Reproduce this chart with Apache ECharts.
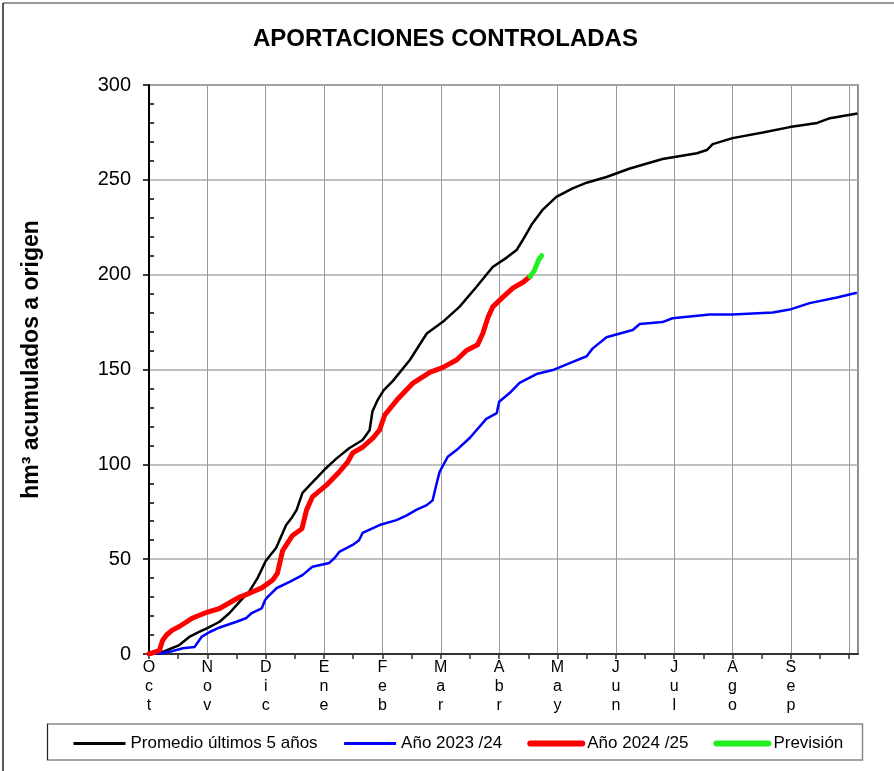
<!DOCTYPE html>
<html>
<head>
<meta charset="utf-8">
<script src="https://cdn.jsdelivr.net/npm/echarts@6/dist/echarts.min.js"></script>
<style>
  html, body { margin: 0; padding: 0; background: #fff; }
  #chart { width: 894px; height: 771px; }
</style>
</head>
<body>
<div id="chart"></div>
<script>
var myChart = echarts.init(document.getElementById('chart'));

// eje x en meses desde el 1 de octubre (0 = Oct, 12 = fin de Sep)
var meses = ['Oct', 'Nov', 'Dic', 'Ene', 'Feb', 'Mar', 'Abr', 'May', 'Jun', 'Jul', 'Ago', 'Sep'];

// [mes, hm3 acumulados]
var promedio = [
  [0, 0], [0.18, 0.5], [0.35, 2.5], [0.52, 4.7], [0.69, 9], [0.85, 11.5], [1.0, 13.7],
  [1.21, 17], [1.38, 21.6], [1.55, 27.5], [1.72, 33], [1.86, 40], [2.0, 49], [2.18, 56],
  [2.35, 68], [2.45, 72], [2.53, 76], [2.63, 85], [2.8, 90.5], [3.0, 97], [3.21, 103],
  [3.43, 108.5], [3.66, 112.8], [3.78, 118], [3.83, 128], [3.92, 134], [4.02, 139],
  [4.18, 144], [4.47, 155], [4.76, 169], [5.03, 175], [5.32, 183], [5.61, 193.5],
  [5.89, 204], [6.13, 209], [6.3, 213], [6.4, 218], [6.57, 227], [6.74, 234], [6.98, 241],
  [7.26, 245.5], [7.5, 248.5], [7.84, 251.5], [8.24, 256], [8.8, 261], [9.39, 264],
  [9.56, 265.7], [9.66, 268.8], [10.0, 272], [10.52, 275], [10.98, 277.8], [11.45, 280],
  [11.67, 282.5], [12.14, 285]
];

var anio2324 = [
  [0, 0], [0.18, 0.3], [0.4, 1.5], [0.58, 3], [0.78, 3.7], [0.9, 9], [1.04, 11.6], [1.21, 14],
  [1.5, 17], [1.67, 19], [1.76, 21.6], [1.93, 24], [1.99, 28.5], [2.03, 30], [2.19, 34.8],
  [2.41, 38], [2.63, 41.6], [2.8, 46], [3.09, 48], [3.18, 50.6], [3.26, 53.8], [3.49, 57.5],
  [3.6, 60], [3.66, 63.8], [3.95, 68], [4.24, 70.6], [4.41, 73], [4.58, 76], [4.76, 78.5],
  [4.86, 81], [4.93, 90], [4.98, 96], [5.12, 104], [5.27, 107.5], [5.5, 114], [5.78, 124],
  [5.96, 127], [6.0, 133], [6.18, 137.6], [6.35, 143], [6.64, 147.6], [6.92, 149.7],
  [7.21, 153.4], [7.5, 157], [7.6, 161], [7.84, 167], [8.07, 169], [8.29, 170.8], [8.41, 174],
  [8.8, 175], [8.97, 177], [9.61, 179], [10.0, 179], [10.69, 180], [10.98, 181.6],
  [11.32, 185], [11.79, 188], [12.13, 190.5]
];

var anio2425 = [
  [0, 0], [0.1, 1], [0.18, 2], [0.23, 7], [0.3, 10], [0.4, 12.6], [0.52, 14.5], [0.75, 19],
  [0.99, 22], [1.21, 24], [1.38, 27], [1.55, 30], [1.72, 32], [1.94, 35], [2.12, 39],
  [2.2, 42.5], [2.29, 54.5], [2.46, 62.5], [2.62, 66], [2.7, 76], [2.8, 82.8], [3.04, 89],
  [3.26, 96], [3.4, 101], [3.49, 106], [3.66, 109], [3.84, 114], [3.95, 118], [4.04, 126],
  [4.25, 134], [4.53, 143], [4.82, 148.6], [5.03, 151], [5.27, 155], [5.44, 160],
  [5.63, 163], [5.72, 169], [5.81, 177.5], [5.89, 183], [6.06, 188], [6.24, 193],
  [6.41, 196], [6.53, 199]
];

var prevision = [
  [6.53, 199], [6.6, 202], [6.64, 205], [6.68, 208], [6.73, 210]
];

var fuente = 'Arial, "Liberation Sans", sans-serif';

var option = {
  animation: false,
  title: {
    text: 'APORTACIONES CONTROLADAS',
    left: 248,
    top: 22,
    textStyle: { fontFamily: fuente, fontSize: 24, fontWeight: 'bold', color: '#000' }
  },
  grid: {
    left: 149, top: 85, right: 36, bottom: 117,
    show: true, borderColor: '#888', borderWidth: 2
  },
  legend: {
    left: 72,
    top: 735,
    padding: 0,
    itemWidth: 52,
    itemHeight: 14,
    itemGap: 25,
    itemStyle: { opacity: 0 },
    textStyle: { fontFamily: fuente, fontSize: 17, color: '#000' },
    data: [
      { name: 'Promedio últimos 5 años', lineStyle: { width: 3 } },
      { name: 'Año 2023 /24', lineStyle: { width: 3 } },
      { name: 'Año 2024 /25', lineStyle: { width: 6, cap: 'round' } },
      { name: 'Previsión', lineStyle: { width: 6, cap: 'round' } }
    ]
  },
  xAxis: [{
    type: 'value',
    min: 0,
    max: 12.15,
    interval: 1,
    axisLine: { lineStyle: { color: '#333', width: 2 } },
    axisTick: { length: 5, lineStyle: { color: '#333', width: 1.5 } },
    splitLine: { lineStyle: { color: '#999', width: 1 } },
    axisLabel: {
      margin: 4,
      fontFamily: fuente,
      fontSize: 16,
      lineHeight: 19,
      color: '#000',
      showMaxLabel: false,
      formatter: function (v) {
        var i = Math.round(v);
        if (Math.abs(v - i) > 1e-6 || i >= meses.length) return '';
        return meses[i].split('').join('\n');
      }
    }
  }, {
    type: 'value',
    min: 0,
    max: 12.15,
    interval: 1,
    axisLine: { show: false },
    axisTick: { show: false, inside: true },
    minorTick: { show: true, splitNumber: 2, length: 5, lineStyle: { color: '#333', width: 1.5 } },
    axisLabel: { show: false },
    splitLine: { show: false }
  }],
  yAxis: [{
    type: 'value',
    min: 0,
    max: 300,
    interval: 50,
    name: 'hm³ acumulados a origen',
    nameLocation: 'middle',
    nameRotate: 90,
    nameGap: 106,
    nameTextStyle: {
      fontFamily: fuente, fontSize: 23, fontWeight: 'bold', color: '#000',
      padding: [0, 0, 0, 20]
    },
    axisLine: { show: true, lineStyle: { color: '#000', width: 2 } },
    axisTick: { show: true, length: 6, lineStyle: { color: '#000', width: 1.5 } },
    splitLine: { lineStyle: { color: '#aaa', width: 1.5 } },
    axisLabel: { margin: 18, fontFamily: fuente, fontSize: 20, color: '#000' }
  }, {
    type: 'value',
    position: 'left',
    min: 0,
    max: 300,
    interval: 50,
    axisLine: { show: false },
    axisTick: { show: false, inside: true },
    minorTick: { show: true, splitNumber: 5, length: 5, lineStyle: { color: '#000', width: 1.5 } },
    axisLabel: { show: false },
    splitLine: { show: false }
  }],
  series: [{
    name: 'Promedio últimos 5 años',
    type: 'line',
    symbol: 'none',
    data: promedio,
    lineStyle: { color: '#000', width: 2.5 },
    itemStyle: { color: '#000' },
    z: 3
  }, {
    name: 'Año 2023 /24',
    type: 'line',
    symbol: 'none',
    data: anio2324,
    lineStyle: { color: '#0000ff', width: 2.5 },
    itemStyle: { color: '#0000ff' },
    z: 3
  }, {
    name: 'Año 2024 /25',
    type: 'line',
    symbol: 'none',
    data: anio2425,
    lineStyle: { color: '#ff0000', width: 5, cap: 'round', join: 'round' },
    itemStyle: { color: '#ff0000' },
    z: 4
  }, {
    name: 'Previsión',
    type: 'line',
    symbol: 'none',
    data: prevision,
    lineStyle: { color: '#22ee22', width: 5, cap: 'round', join: 'round' },
    itemStyle: { color: '#22ee22' },
    z: 5
  }],
  graphic: [{
    // marco exterior: solo arriba e izquierda
    type: 'line',
    shape: { x1: 3, y1: 3, x2: 894, y2: 3 },
    style: { stroke: '#999', lineWidth: 2 },
    silent: true
  }, {
    type: 'line',
    shape: { x1: 3, y1: 3, x2: 3, y2: 771 },
    style: { stroke: '#222', lineWidth: 1.5 },
    silent: true
  }, {
    // caja de la leyenda
    type: 'rect',
    shape: { x: 47.5, y: 724, width: 815, height: 36 },
    style: { fill: 'none', stroke: '#888', lineWidth: 1.5 },
    silent: true
  }, {
    type: 'line',
    shape: { x1: 47.5, y1: 724, x2: 47.5, y2: 760 },
    style: { stroke: '#222', lineWidth: 1 },
    silent: true
  }]
};

myChart.setOption(option);
</script>
</body>
</html>
